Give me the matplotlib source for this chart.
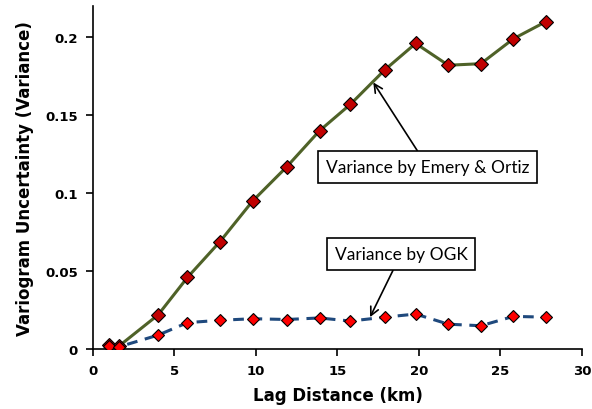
import matplotlib
matplotlib.use("Agg")
import matplotlib.pyplot as plt

# Data
lag_km = [1.0, 1.6, 4.0, 5.8, 7.8, 9.8, 11.9, 13.9, 15.8, 17.9, 19.8, 21.8, 23.8, 25.8, 27.8]
var_emery = [0.0025, 0.002, 0.022, 0.046, 0.069, 0.095, 0.117, 0.140, 0.157, 0.179,
             0.196, 0.182, 0.183, 0.199, 0.210]
var_ogk = [0.002, 0.0015, 0.009, 0.017, 0.0185, 0.0195, 0.019, 0.020, 0.018, 0.0205,
           0.0225, 0.016, 0.015, 0.021, 0.0205]
x_ticks = [0, 5, 10, 15, 20, 25, 30]
y_ticks = [0, 0.05, 0.1, 0.15, 0.2]
y_tick_labels = ["0", "0.05", "0.1", "0.15", "0.2"]

fig = plt.figure(figsize=(5.92, 4.10), dpi=100)
ax = fig.add_axes([0.157, 0.146, 0.826, 0.837])

ax.plot(lag_km, var_emery, color="#4F6228", lw=2.2, marker="D", ms=7,
        mfc="#C00000", mec="black", mew=0.8, zorder=3)
ax.plot(lag_km, var_ogk, color="#1F497D", lw=2.2, ls=(0, (3.5, 2.5)), marker="D", ms=6,
        mfc="#FF0000", mec="black", mew=0.8, zorder=3)

ax.set_xlim(0, 30)
ax.set_ylim(0, 0.22)
ax.set_xticks(x_ticks)
ax.set_yticks(y_ticks)
ax.set_yticklabels(y_tick_labels)
for lbl in ax.get_xticklabels() + ax.get_yticklabels():
    lbl.set_fontweight("bold")
    lbl.set_fontsize(9.5)
ax.tick_params(direction="out", length=5, width=1.2, pad=6)

for side in ["top", "right"]:
    ax.spines[side].set_visible(False)
for side in ["left", "bottom"]:
    ax.spines[side].set_linewidth(1.2)

ax.set_xlabel("Lag Distance (km)", fontsize=12, fontweight="bold", labelpad=6)
ax.set_ylabel("Variogram Uncertainty (Variance)", fontsize=12, fontweight="bold", labelpad=8)

box = dict(boxstyle="square,pad=0.45", fc="white", ec="black", lw=1.2)
arrow = dict(arrowstyle="->", color="black", lw=1.2, mutation_scale=15, shrinkA=0, shrinkB=0)
ax.annotate("Variance by Emery & Ortiz", xy=(17.2, 0.171), xytext=(20.55, 0.1167),
            ha="center", va="center", fontsize=12.5, family="Lato", bbox=box,
            arrowprops=arrow, zorder=4)
ax.annotate("Variance by OGK", xy=(17.0, 0.0205), xytext=(18.9, 0.061),
            ha="center", va="center", fontsize=12.5, family="Lato", bbox=box,
            arrowprops=arrow, zorder=4)

fig.savefig("out.png", dpi=100)
